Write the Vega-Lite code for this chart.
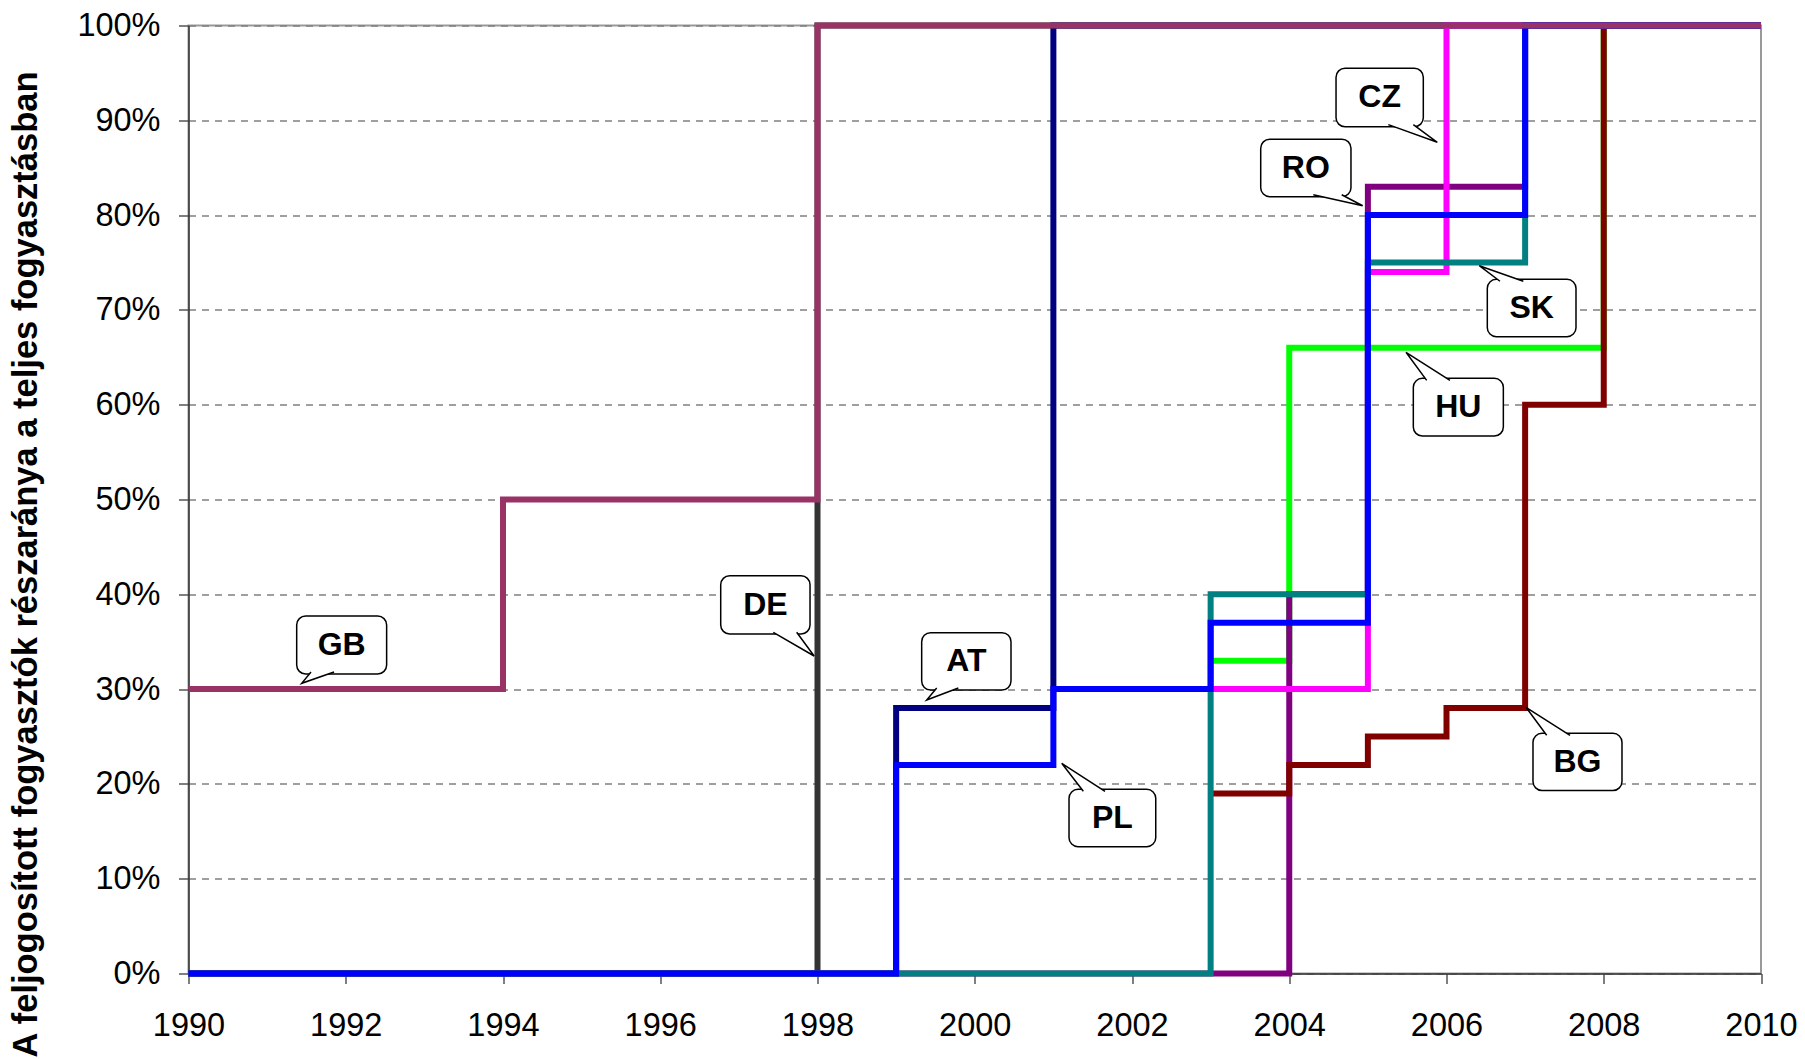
{
  "$schema": "https://vega.github.io/schema/vega-lite/v6.json",
  "width": 1572.5,
  "height": 948,
  "autosize": {"type": "none"},
  "padding": {"left": 188.5, "top": 25.5, "right": 44, "bottom": 85.5},
  "background": "white",
  "config": {
    "view": {"stroke": "#999999", "strokeWidth": 2},
    "font": "Liberation Sans"
  },
  "datasets": {
    "series": [
      {"c": "DE", "year": 1990, "share": 0}, {"c": "DE", "year": 1998, "share": 100}, {"c": "DE", "year": 2010, "share": 100},
      {"c": "AT", "year": 1990, "share": 0}, {"c": "AT", "year": 1999, "share": 28}, {"c": "AT", "year": 2001, "share": 100}, {"c": "AT", "year": 2010, "share": 100},
      {"c": "HU", "year": 2003, "share": 33}, {"c": "HU", "year": 2004, "share": 66}, {"c": "HU", "year": 2008, "share": 100}, {"c": "HU", "year": 2010, "share": 100},
      {"c": "RO", "year": 1990, "share": 0}, {"c": "RO", "year": 2004, "share": 40}, {"c": "RO", "year": 2005, "share": 83}, {"c": "RO", "year": 2007, "share": 100}, {"c": "RO", "year": 2010, "share": 100},
      {"c": "BG", "year": 2003, "share": 19}, {"c": "BG", "year": 2004, "share": 22}, {"c": "BG", "year": 2005, "share": 25}, {"c": "BG", "year": 2006, "share": 28}, {"c": "BG", "year": 2007, "share": 60}, {"c": "BG", "year": 2008, "share": 100}, {"c": "BG", "year": 2010, "share": 100},
      {"c": "CZ", "year": 2003, "share": 30}, {"c": "CZ", "year": 2005, "share": 74}, {"c": "CZ", "year": 2006, "share": 100}, {"c": "CZ", "year": 2010, "share": 100},
      {"c": "SK", "year": 1990, "share": 0}, {"c": "SK", "year": 2003, "share": 40}, {"c": "SK", "year": 2005, "share": 75}, {"c": "SK", "year": 2007, "share": 100}, {"c": "SK", "year": 2010, "share": 100},
      {"c": "PL", "year": 1990, "share": 0}, {"c": "PL", "year": 1999, "share": 22}, {"c": "PL", "year": 2001, "share": 30}, {"c": "PL", "year": 2003, "share": 37}, {"c": "PL", "year": 2005, "share": 80}, {"c": "PL", "year": 2007, "share": 100}, {"c": "PL", "year": 2010, "share": 100},
      {"c": "GB", "year": 1990, "share": 30}, {"c": "GB", "year": 1994, "share": 50}, {"c": "GB", "year": 1998, "share": 100}, {"c": "GB", "year": 2010, "share": 100}
    ],
    "boxes": [
      {"id": "GB", "year": 1991.376, "year2": 1992.52, "share": 31.59, "share2": 37.71},
      {"id": "DE", "year": 1996.769, "year2": 1997.905, "share": 35.81, "share2": 41.96},
      {"id": "AT", "year": 1999.325, "year2": 2000.461, "share": 29.9, "share2": 35.95},
      {"id": "PL", "year": 2001.199, "year2": 2002.302, "share": 13.38, "share2": 19.43},
      {"id": "CZ", "year": 2004.595, "year2": 2005.705, "share": 89.32, "share2": 95.49},
      {"id": "RO", "year": 2003.637, "year2": 2004.785, "share": 81.94, "share2": 88.0},
      {"id": "SK", "year": 2006.519, "year2": 2007.647, "share": 67.17, "share2": 73.23},
      {"id": "HU", "year": 2005.578, "year2": 2006.723, "share": 56.7, "share2": 62.78},
      {"id": "BG", "year": 2007.1, "year2": 2008.232, "share": 19.3, "share2": 25.34}
    ],
    "tails": [
      {"id": "GB", "ord": 1, "year": 1991.558, "share": 31.8}, {"id": "GB", "ord": 2, "year": 1991.44, "share": 30.61}, {"id": "GB", "ord": 3, "year": 1991.851, "share": 31.8},
      {"id": "DE", "ord": 1, "year": 1997.438, "share": 35.99}, {"id": "DE", "ord": 2, "year": 1997.957, "share": 33.49}, {"id": "DE", "ord": 3, "year": 1997.735, "share": 35.99},
      {"id": "AT", "ord": 1, "year": 1999.516, "share": 30.12}, {"id": "AT", "ord": 2, "year": 1999.389, "share": 28.85}, {"id": "AT", "ord": 3, "year": 1999.791, "share": 30.12},
      {"id": "PL", "ord": 1, "year": 2001.381, "share": 19.22}, {"id": "PL", "ord": 2, "year": 2001.106, "share": 22.17}, {"id": "PL", "ord": 3, "year": 2001.657, "share": 19.22},
      {"id": "CZ", "ord": 1, "year": 2005.26, "share": 89.54}, {"id": "CZ", "ord": 2, "year": 2005.883, "share": 87.68}, {"id": "CZ", "ord": 3, "year": 2005.578, "share": 89.54},
      {"id": "RO", "ord": 1, "year": 2004.306, "share": 82.15}, {"id": "RO", "ord": 2, "year": 2004.934, "share": 80.99}, {"id": "RO", "ord": 3, "year": 2004.667, "share": 82.15},
      {"id": "SK", "ord": 1, "year": 2006.68, "share": 73.02}, {"id": "SK", "ord": 2, "year": 2006.417, "share": 74.66}, {"id": "SK", "ord": 3, "year": 2006.977, "share": 73.02},
      {"id": "HU", "ord": 1, "year": 2005.748, "share": 62.57}, {"id": "HU", "ord": 2, "year": 2005.485, "share": 65.53}, {"id": "HU", "ord": 3, "year": 2006.044, "share": 62.57},
      {"id": "BG", "ord": 1, "year": 2007.274, "share": 25.13}, {"id": "BG", "ord": 2, "year": 2007.011, "share": 28.08}, {"id": "BG", "ord": 3, "year": 2007.571, "share": 25.13}
    ],
    "labels": [
      {"id": "GB", "year": 1991.948, "share": 34.65},
      {"id": "DE", "year": 1997.337, "share": 38.89},
      {"id": "AT", "year": 1999.893, "share": 32.93},
      {"id": "PL", "year": 2001.75, "share": 16.4},
      {"id": "CZ", "year": 2005.15, "share": 92.41},
      {"id": "RO", "year": 2004.211, "share": 84.97},
      {"id": "SK", "year": 2007.083, "share": 70.2},
      {"id": "HU", "year": 2006.15, "share": 59.74},
      {"id": "BG", "year": 2007.666, "share": 22.32}
    ]
  },
  "encoding": {
    "x": {
      "field": "year", "type": "quantitative",
      "scale": {"domain": [1990, 2010], "nice": false, "zero": false},
      "axis": {
        "values": [1990, 1992, 1994, 1996, 1998, 2000, 2002, 2004, 2006, 2008, 2010],
        "format": "d", "title": null, "grid": false,
        "labelFont": "Liberation Sans", "labelFontSize": 32.5, "labelColor": "black",
        "labelPadding": 26, "labelFlush": false, "labelOverlap": false,
        "tickSize": 10, "tickColor": "#555555", "tickWidth": 1.5,
        "domainColor": "#333333", "domainWidth": 1.5
      }
    },
    "y": {
      "field": "share", "type": "quantitative",
      "scale": {"domain": [0, 100], "nice": false, "zero": true},
      "axis": {
        "values": [0, 10, 20, 30, 40, 50, 60, 70, 80, 90, 100],
        "labelExpr": "datum.value + '%'",
        "title": "A feljogosított fogyasztók részaránya a teljes fogyasztásban",
        "titleFont": "Liberation Sans", "titleFontSize": 34.5, "titleFontWeight": "bold", "titleColor": "black",
        "titleX": -152, "titleY": 538.5, "titleBaseline": "alphabetic", "titleAlign": "center", "titleAngle": 270,
        "grid": true, "gridDash": [7, 6], "gridColor": "#808080", "gridWidth": 1.5,
        "labelFont": "Liberation Sans", "labelFontSize": 32.5, "labelColor": "black",
        "labelPadding": 18.5, "labelOverlap": false,
        "tickSize": 10, "tickColor": "#555555", "tickWidth": 1.5,
        "domainColor": "#333333", "domainWidth": 1.5
      }
    }
  },
  "layer": [
    {
      "data": {"name": "series"},
      "layer": [
        {"transform": [{"filter": "datum.c === 'DE'"}], "mark": {"type": "line", "interpolate": "step-after", "strokeWidth": 6, "color": "#333333"}},
        {"transform": [{"filter": "datum.c === 'AT'"}], "mark": {"type": "line", "interpolate": "step-after", "strokeWidth": 6, "color": "#000080"}},
        {"transform": [{"filter": "datum.c === 'HU'"}], "mark": {"type": "line", "interpolate": "step-after", "strokeWidth": 6, "color": "#00FF00"}},
        {"transform": [{"filter": "datum.c === 'RO'"}], "mark": {"type": "line", "interpolate": "step-after", "strokeWidth": 6, "color": "#800080"}},
        {"transform": [{"filter": "datum.c === 'BG'"}], "mark": {"type": "line", "interpolate": "step-after", "strokeWidth": 6, "color": "#800000"}},
        {"transform": [{"filter": "datum.c === 'CZ'"}], "mark": {"type": "line", "interpolate": "step-after", "strokeWidth": 6, "color": "#FF00FF"}},
        {"transform": [{"filter": "datum.c === 'SK'"}], "mark": {"type": "line", "interpolate": "step-after", "strokeWidth": 6, "color": "#008080"}},
        {"transform": [{"filter": "datum.c === 'PL'"}], "mark": {"type": "line", "interpolate": "step-after", "strokeWidth": 6, "color": "#0000FF"}},
        {"transform": [{"filter": "datum.c === 'GB'"}], "mark": {"type": "line", "interpolate": "step-after", "strokeWidth": 6, "color": "#993366"}}
      ]
    },
    {
      "data": {"name": "boxes"},
      "mark": {"type": "rect", "fill": "white", "stroke": "black", "strokeWidth": 1.5, "cornerRadius": 9},
      "encoding": {
        "x2": {"field": "year2"},
        "y2": {"field": "share2"}
      }
    },
    {
      "data": {"name": "tails"},
      "mark": {"type": "line", "fill": "white", "stroke": "black", "strokeWidth": 1.5, "strokeJoin": "miter"},
      "encoding": {
        "detail": {"field": "id"},
        "order": {"field": "ord", "type": "quantitative"}
      }
    },
    {
      "data": {"name": "labels"},
      "mark": {"type": "text", "font": "Liberation Sans", "fontWeight": "bold", "fontSize": 32, "color": "black", "align": "center", "baseline": "middle"},
      "encoding": {
        "text": {"field": "id"}
      }
    }
  ]
}
